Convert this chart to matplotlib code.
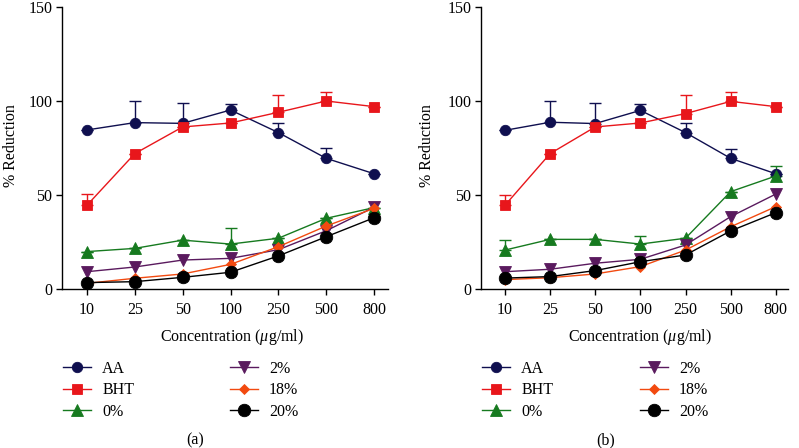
import matplotlib
matplotlib.use("Agg")
import matplotlib.pyplot as plt
import numpy as np

plt.rcParams['font.family'] = ['Liberation Serif', 'DejaVu Serif']
plt.rcParams['mathtext.fontset'] = 'custom'
plt.rcParams['mathtext.it'] = 'Liberation Serif:italic'
plt.rcParams['mathtext.rm'] = 'Liberation Serif'

concentrations = ["10", "25", "50", "100", "250", "500", "800"]
series_names = ["AA", "BHT", "0%", "2%", "18%", "20%"]

# Panel (a)
a_AA = [84.6, 88.5, 88.1, 95.2, 83.2, 69.5, 61.3]
a_AA_err = [0, 11.5, 11.0, 3.4, 5.0, 5.5, 0]
a_BHT = [44.5, 72.0, 86.2, 88.3, 94.0, 100.0, 97.0]
a_BHT_err = [6.0, 0, 0, 0, 9.4, 4.8, 0]
a_0 = [19.9, 21.6, 26.0, 23.9, 27.0, 37.6, 43.3]
a_0_err = [0, 0, 0, 8.5, 0, 0, 0]
a_2 = [9.2, 11.7, 15.4, 16.3, 20.9, 31.0, 43.5]
a_18 = [3.0, 5.7, 8.0, 13.1, 22.5, 33.5, 42.9]
a_20 = [3.4, 3.9, 6.2, 8.9, 17.6, 27.8, 37.9]

# Panel (b)
b_AA = [84.4, 88.7, 88.0, 95.0, 83.2, 69.5, 61.3]
b_AA_err = [0, 11.1, 11.1, 3.4, 4.9, 5.1, 0]
b_BHT = [44.5, 72.0, 86.2, 88.3, 93.3, 99.8, 97.0]
b_BHT_err = [5.7, 0, 0, 0, 9.7, 5.0, 0]
b_0 = [20.7, 26.4, 26.4, 23.9, 27.0, 51.8, 60.1]
b_0_err = [5.4, 0, 0, 4.3, 0, 0, 5.5]
b_2 = [9.2, 10.5, 13.7, 15.8, 23.4, 38.5, 50.5]
b_18 = [5.0, 6.0, 8.0, 11.9, 20.7, 33.1, 43.8]
b_20 = [5.8, 6.6, 9.8, 14.5, 18.1, 30.9, 40.6]

colors = ["#0F0F4F", "#E8161B", "#167A1F", "#5A1A5E", "#F24A10", "#000000"]
markers = ["o", "s", "^", "v", "D", "o"]
msizes = [7.5, 7, 8, 8, 5.5, 9]
FS = 11.5

fig = plt.figure(figsize=(7.99, 4.48), dpi=100)
W, H = 799, 448

def make_panel(left_px, right_px, xlim, data, errs, ylab_x, xlab_x, caption, cap_x, leg_x1, leg_x2):
    ax = fig.add_axes([left_px / W, 1 - 289 / H, (right_px - left_px) / W, 282 / H])
    x = np.arange(len(concentrations))
    handles = []
    for i, (vals, name) in enumerate(zip(data, series_names)):
        e = errs[i]
        if e is not None:
            ax.errorbar(x, vals, yerr=[np.zeros(len(e)), e], fmt='none', ecolor=colors[i],
                        elinewidth=1.0, capsize=4, capthick=1.0, zorder=2 + i * 0.1)
        ln, = ax.plot(x, vals, color=colors[i], marker=markers[i], markersize=msizes[i],
                      linewidth=1.0, markeredgewidth=0.6, markeredgecolor=colors[i],
                      markerfacecolor=colors[i], label=name, zorder=3 + i * 0.1)
        handles.append(ln)
    ax.set_xlim(*xlim)
    ax.set_ylim(0, 150)
    ax.set_yticks([0, 50, 100, 150])
    ax.set_xticks(x)
    ax.set_xticklabels(concentrations)
    for s in ["top", "right"]:
        ax.spines[s].set_visible(False)
    for s in ["left", "bottom"]:
        ax.spines[s].set_linewidth(1.0)
    ax.tick_params(direction='out', length=4, width=1.0, labelsize=FS)
    ax.tick_params(axis='x', pad=5)
    ax.tick_params(axis='y', pad=3)
    ax.set_ylabel("% Reduction", fontsize=FS)
    ax.yaxis.set_label_coords((ylab_x - left_px) / (right_px - left_px), 0.51)
    ax.set_xlabel(r"Concentration ($\mu$g/ml)", fontsize=FS)
    ax.xaxis.set_label_coords((xlab_x - left_px) / (right_px - left_px), -0.133)
    fig.text(cap_x / W, 1 - 440 / H, caption, ha='center', va='center', fontsize=FS)
    for hs, lx in ((handles[:3], leg_x1), (handles[3:], leg_x2)):
        fig.legend(handles=hs, loc='upper left', bbox_to_anchor=(lx / W, 1 - 361 / H),
                   frameon=False, fontsize=FS, handlelength=1.75, handletextpad=0.7,
                   labelspacing=0.34, borderpad=0, borderaxespad=0)
    return ax

make_panel(62, 388, (-0.52, 6.29), [a_AA, a_BHT, a_0, a_2, a_18, a_20],
           [a_AA_err, a_BHT_err, a_0_err, None, None, None],
           19, 232, "(a)", 195, 63, 230)
make_panel(481, 788, (-0.53, 6.27), [b_AA, b_BHT, b_0, b_2, b_18, b_20],
           [b_AA_err, b_BHT_err, b_0_err, None, None, None],
           435, 640, "(b)", 606, 482, 640)

fig.savefig("out.png", dpi=100)
